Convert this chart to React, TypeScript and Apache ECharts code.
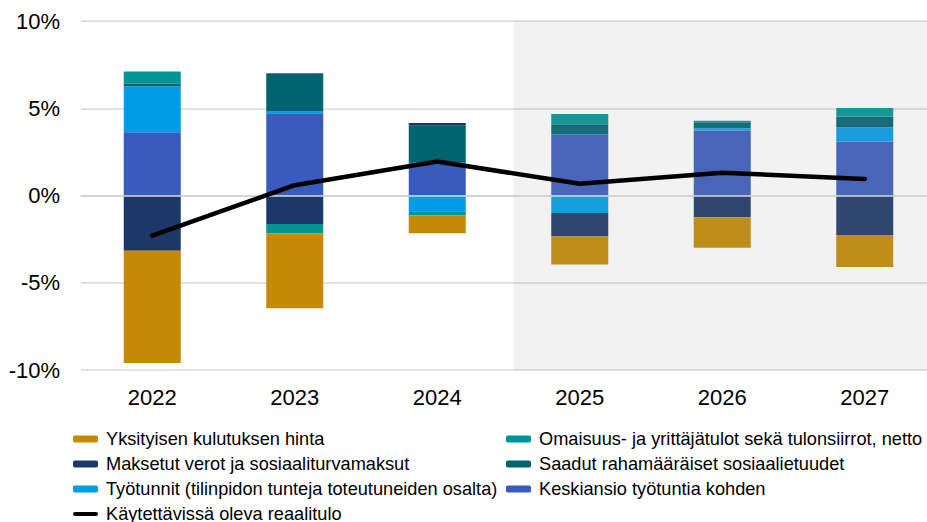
import React, { useEffect, useRef } from "react";
import * as echarts from "echarts";

const years = ["2022", "2023", "2024", "2025", "2026", "2027"];

const keskiansio = [3.62, 4.72, 1.87, 3.49, 3.73, 3.1];
const tyotunnit = [2.63, 0.1, -0.9, -1.0, 0.13, 0.8];
const saadut = [0.15, 2.19, 2.13, 0.59, 0.34, 0.63];
const maksetut = [-3.16, -1.64, 0.15, -1.35, -1.24, -2.27];
const omaisuus = [0.7, -0.53, -0.23, 0.59, 0.08, 0.48];
const yksityisen = [-6.44, -4.29, -1.04, -1.6, -1.75, -1.83];
const reaalitulo = [-2.3, 0.59, 1.95, 0.67, 1.3, 0.95];

const yTicks = { min: -10, max: 10, interval: 5 };
const forecastStart = 2.534; // position on hidden value axis where forecast shading starts

const NAMES = {
  yks: "Yksityisen kulutuksen hinta",
  mak: "Maksetut verot ja sosiaaliturvamaksut",
  tyo: "Työtunnit (tilinpidon tunteja toteutuneiden osalta)",
  kay: "Käytettävissä oleva reaalitulo",
  oma: "Omaisuus- ja yrittäjätulot sekä tulonsiirrot, netto",
  saa: "Saadut rahamääräiset sosiaalietuudet",
  kes: "Keskiansio työtuntia kohden",
};

const COLORS = {
  yks: "#C48A04",
  mak: "#1C3769",
  tyo: "#009CE6",
  oma: "#009595",
  saa: "#006370",
  kes: "#3A5BBE",
};

const FONT = "'Liberation Sans', Arial, sans-serif";

export default function App() {
  const ref = useRef<HTMLDivElement>(null);
  useEffect(() => {
    if (!ref.current) return;
    const chart = echarts.init(ref.current, null, { renderer: "svg" });
    const bar = (key: string, data: number[]) => ({
      name: (NAMES as any)[key],
      type: "bar",
      stack: "total",
      barWidth: "40%",
      data,
      z: 2,
      itemStyle: { color: (COLORS as any)[key] },
    });
    const legendText = {
      fontFamily: FONT,
      fontSize: 18.2,
      color: "#000",
      lineHeight: 18,
      padding: [0, 0, 0, 3],
    };
    const legendBase = {
      orient: "vertical",
      top: 430,
      height: 110,
      padding: 0,
      itemWidth: 25,
      itemHeight: 7,
      itemGap: 7,
      textStyle: legendText,
    };
    chart.setOption({
      animation: false,
      backgroundColor: "#fff",
      textStyle: { fontFamily: FONT },
      grid: { left: 81, right: 0, top: 21, bottom: 152, containLabel: false, outerBoundsMode: "none" },
      xAxis: [
        {
          type: "category",
          data: years,
          axisTick: { show: false },
          axisLine: { lineStyle: { color: "#BFBFBF", width: 1.5 } },
          axisLabel: { fontFamily: FONT, fontSize: 22, color: "#000", margin: 16 },
        },
        { type: "value", min: -0.5, max: 5.5, show: false },
      ],
      yAxis: {
        type: "value",
        min: yTicks.min,
        max: yTicks.max,
        interval: yTicks.interval,
        axisLine: { show: false },
        axisTick: { show: false },
        splitLine: { lineStyle: { color: "#D9D9D9", width: 1.5 } },
        axisLabel: {
          fontFamily: FONT,
          fontSize: 22,
          color: "#000",
          margin: 21,
          formatter: "{value}%",
        },
      },
      legend: [
        {
          ...legendBase,
          left: 73,
          data: [
            NAMES.yks,
            NAMES.mak,
            NAMES.tyo,
            {
              name: NAMES.kay,
              icon: "path://M2,0 H23 A2,2 0 0 1 23,4 H2 A2,2 0 0 1 2,0 Z",
              itemStyle: { color: "#000" },
            },
          ],
        },
        {
          ...legendBase,
          left: 506,
          data: [NAMES.oma, NAMES.saa, NAMES.kes],
        },
      ],
      series: [
        bar("kes", keskiansio),
        bar("tyo", tyotunnit),
        bar("saa", saadut),
        bar("mak", maksetut),
        bar("oma", omaisuus),
        bar("yks", yksityisen),
        {
          name: "shade",
          type: "line",
          xAxisIndex: 1,
          yAxisIndex: 0,
          data: [],
          z: 3,
          silent: true,
          markArea: {
            silent: true,
            z: 3,
            itemStyle: { color: "rgba(160,160,160,0.14)" },
            data: [[{ xAxis: forecastStart }, { xAxis: 5.5 }]],
          },
          markLine: {
            silent: true,
            symbol: "none",
            z: 4,
            label: { show: false },
            lineStyle: { color: "#D9D9D9", width: 1.5, type: "solid" },
            data: [{ yAxis: 0 }],
          },
        },
        {
          name: NAMES.kay,
          type: "line",
          data: reaalitulo,
          z: 6,
          symbol: "none",
          lineStyle: { color: "#000", width: 4.5, cap: "round", join: "round" },
          itemStyle: { color: "#000" },
        },
      ],
    });
    return () => chart.dispose();
  }, []);
  return (
    <div
      style={{
        position: "fixed",
        left: 0,
        top: 0,
        width: 927,
        height: 522,
        overflow: "hidden",
        background: "#fff",
      }}
    >
      <div ref={ref} style={{ width: 936, height: 522 }} />
    </div>
  );
}
